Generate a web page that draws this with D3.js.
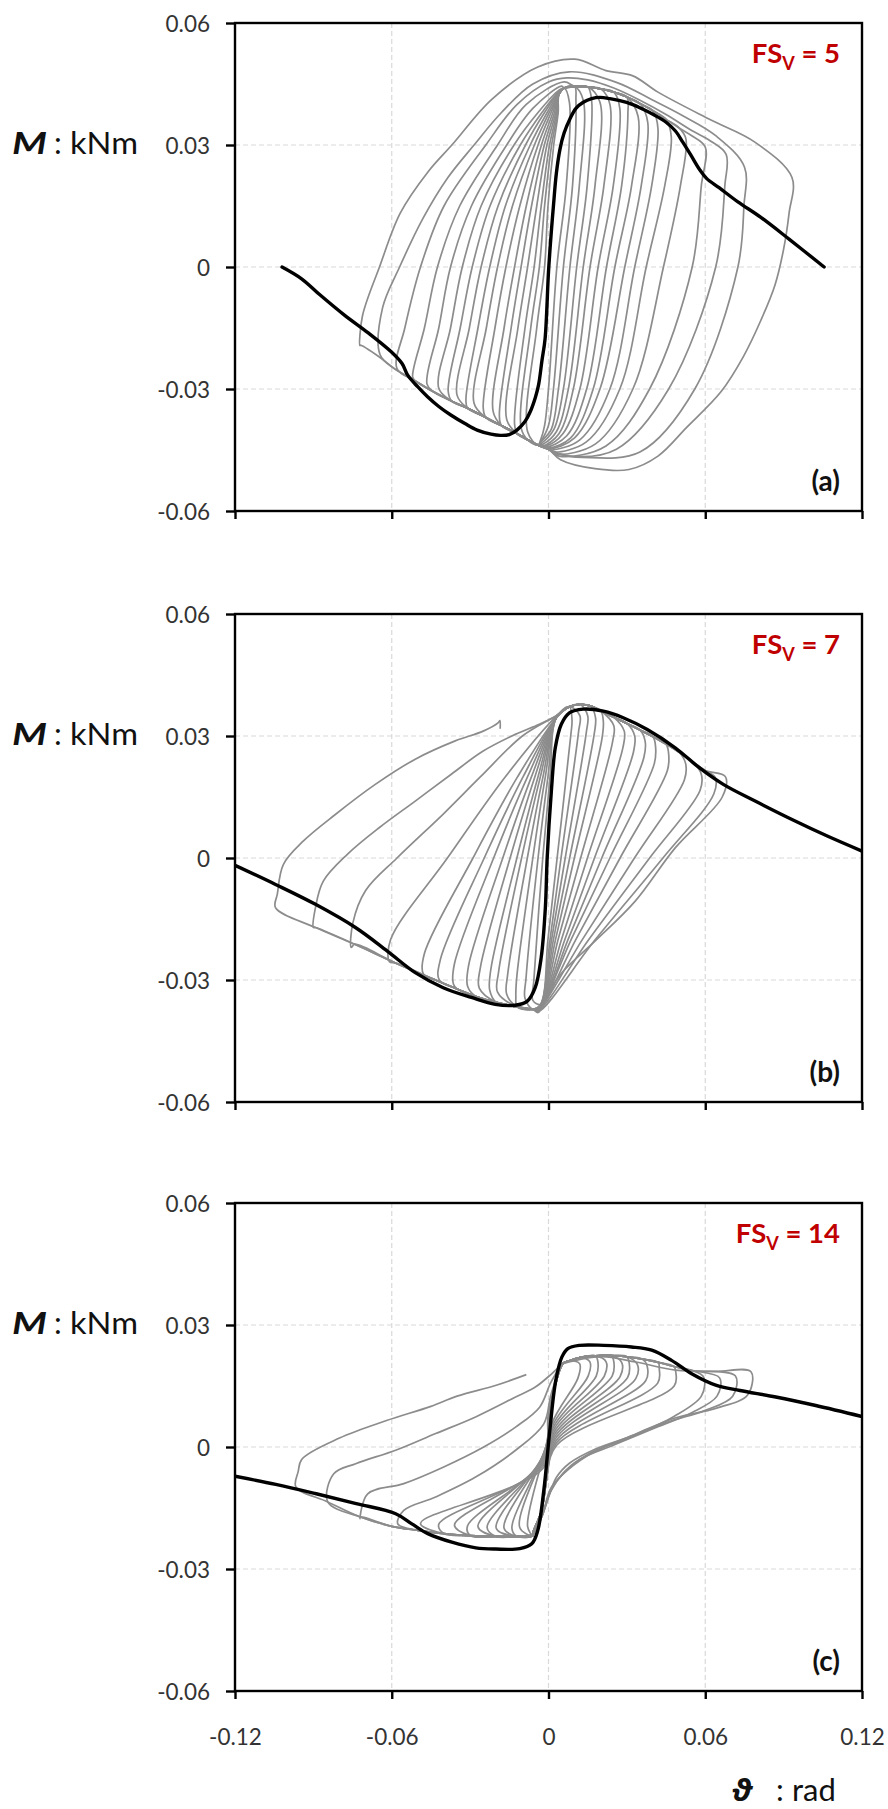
<!DOCTYPE html>
<html><head><meta charset="utf-8">
<script src="https://cdn.jsdelivr.net/npm/d3@7"></script>
<style>
body{margin:0;background:#fff}
svg{display:block}
text{font-family:Lato,"Noto Sans",sans-serif}
</style>
</head><body>
<svg id="chart" width="888" height="1809"></svg>
<script>
// ---- axes ----
const xTicks = [-0.12, -0.06, 0, 0.06, 0.12];
const xTickLabels = ["-0.12", "-0.06", "0", "0.06", "0.12"];
const yTicks = [-0.06, -0.03, 0, 0.03, 0.06];
const yTickLabels = ["-0.06", "-0.03", "0", "0.03", "0.06"];
const panelNames = ["(a)", "(b)", "(c)"];
const fsValues = ["5", "7", "14"];

// ---- panel (a): FSv = 5 ----
const topEnvA = [[0.006,0.0440],[0.010,0.0444],[0.015,0.0443],[0.020,0.0438],[0.025,0.0430],[0.030,0.0418],[0.035,0.0402],[0.040,0.0384],[0.045,0.0363],[0.050,0.0342],[0.055,0.0322]];
const botEnvA = [[-0.072,-0.0192],[-0.065,-0.0220],[-0.059,-0.0250],[-0.051,-0.0280],[-0.044,-0.0307],[-0.037,-0.0330],[-0.031,-0.0347],[-0.024,-0.0370],[-0.018,-0.0390],[-0.012,-0.0410],[-0.008,-0.0425],[-0.004,-0.0438],[0.000,-0.0448]];
const loopsA = [
 {up:[[-0.0080,-0.0405],[-0.0045,-0.015],[-0.0015,0],[-0.0002,0.015],[0.0020,0.030],[0.0037,0.038],[0.004,0.0425]],
  down:[[0.0080,0.0405],[0.0068,0.020],[0.0032,0],[0.0000,-0.030],[-0.0015,-0.039],[-0.0030,-0.0425]]},
 {up:[[-0.0105,-0.0395],[-0.0068,-0.015],[-0.0035,0],[-0.0015,0.015],[0.0012,0.030],[0.0035,0.038],[0.004,0.0425]],
  down:[[0.0105,0.0410],[0.0092,0.020],[0.0057,0],[0.0019,-0.030],[0.0000,-0.039],[-0.0030,-0.0430]]},
 {up:[[-0.0130,-0.0385],[-0.0090,-0.015],[-0.0055,0],[-0.0028,0.015],[0.0004,0.030],[0.0032,0.038],[0.004,0.0425]],
  down:[[0.0133,0.0410],[0.0118,0.020],[0.0082,0],[0.0038,-0.030],[0.0010,-0.040],[-0.0030,-0.0430]]},
 {up:[[-0.0160,-0.0375],[-0.0117,-0.015],[-0.0080,0],[-0.0045,0.015],[-0.0006,0.030],[0.0028,0.038],[0.004,0.0425]],
  down:[[0.0165,0.0410],[0.0148,0.020],[0.0108,0],[0.0057,-0.030],[0.0020,-0.040],[-0.0030,-0.0435]]},
 {up:[[-0.0188,-0.0365],[-0.0143,-0.015],[-0.0105,0],[-0.0065,0.015],[-0.0016,0.030],[0.0023,0.038],[0.004,0.0425]],
  down:[[0.0197,0.0405],[0.0178,0.020],[0.0133,0],[0.0076,-0.030],[0.0030,-0.0405],[-0.0020,-0.0435]]},
 {up:[[-0.0212,-0.0355],[-0.0170,-0.015],[-0.0130,0],[-0.0085,0.015],[-0.0027,0.030],[0.0017,0.038],[0.004,0.0425]],
  down:[[0.0235,0.0400],[0.0212,0.020],[0.0159,0],[0.0095,-0.030],[0.0040,-0.041],[-0.0020,-0.0440]]},
 {up:[[-0.0250,-0.0345],[-0.0205,-0.015],[-0.0163,0],[-0.0110,0.015],[-0.0040,0.030],[0.0010,0.038],[0.004,0.0425]],
  down:[[0.0273,0.0390],[0.0248,0.020],[0.0190,0],[0.0120,-0.030],[0.0055,-0.041],[-0.0010,-0.0440]]},
 {up:[[-0.0285,-0.0335],[-0.0238,-0.015],[-0.0195,0],[-0.0138,0.015],[-0.0054,0.030],[0.0003,0.038],[0.004,0.0425]],
  down:[[0.0304,0.0380],[0.0280,0.020],[0.0222,0],[0.0146,-0.030],[0.0070,-0.0415],[-0.0010,-0.0443]]},
 {up:[[-0.0316,-0.0325],[-0.0270,-0.015],[-0.0225,0],[-0.0165,0.015],[-0.0070,0.030],[-0.0005,0.038],[0.004,0.0428]],
  down:[[0.0343,0.0370],[0.0318,0.020],[0.0254,0],[0.0171,-0.030],[0.0085,-0.042],[0.0000,-0.0445]]},
 {up:[[-0.0350,-0.0315],[-0.0303,-0.015],[-0.0258,0],[-0.0193,0.015],[-0.0088,0.030],[-0.0015,0.038],[0.004,0.0430]],
  down:[[0.0380,0.0355],[0.0355,0.020],[0.0292,0],[0.0197,-0.030],[0.0100,-0.042],[0.0000,-0.0447]]},
 {up:[[-0.0384,-0.0305],[-0.0338,-0.015],[-0.0292,0],[-0.0224,0.015],[-0.0108,0.030],[-0.0025,0.038],[0.004,0.0432]],
  down:[[0.0419,0.0340],[0.0395,0.020],[0.0330,0],[0.0235,-0.030],[0.0120,-0.0425],[0.0010,-0.0450]]},
 {up:[[-0.0420,-0.0298],[-0.0375,-0.015],[-0.0330,0],[-0.0258,0.015],[-0.0132,0.030],[-0.0040,0.038],[0.004,0.0435]],
  down:[[0.0470,0.0320],[0.0445,0.020],[0.0374,0],[0.0273,-0.030],[0.0145,-0.043],[0.0020,-0.0455]]},
 {up:[[-0.0465,-0.0288],[-0.0420,-0.015],[-0.0375,0],[-0.0295,0.015],[-0.0160,0.030],[-0.0060,0.039],[0.005,0.0445]],
  down:[[0.0526,0.0315],[0.0505,0.020],[0.0440,0],[0.0323,-0.030],[0.0180,-0.0435],[0.0030,-0.0460]]},
 {up:[[-0.0520,-0.0270],[-0.0475,-0.015],[-0.0425,0],[-0.0340,0.015],[-0.0195,0.030],[-0.0085,0.040],[0.006,0.0455]],
  down:[[0.0600,0.0295],[0.0585,0.020],[0.0550,0],[0.0387,-0.030],[0.0220,-0.0440],[0.0040,-0.0465]]},
 {up:[[-0.0580,-0.0250],[-0.0550,-0.015],[-0.0490,0],[-0.0400,0.015],[-0.0240,0.030],[-0.0120,0.040],[0.000,0.0455],[0.007,0.0465],[0.015,0.0460],[0.025,0.0440],[0.035,0.0410],[0.045,0.0375],[0.055,0.0335],[0.062,0.0310]],
  down:[[0.0680,0.0277],[0.0675,0.020],[0.0640,0],[0.0460,-0.030],[0.0260,-0.0448],[0.0080,-0.0465]]},
 {up:[[-0.0645,-0.0215],[-0.0635,-0.010],[-0.0570,0],[-0.0480,0.012],[-0.0385,0.022],[-0.0285,0.030],[-0.0180,0.038],[-0.0060,0.0450],[0.0080,0.0480],[0.0260,0.0454],[0.0400,0.0410],[0.0514,0.0372],[0.0640,0.0323]],
  down:[[0.0750,0.0246],[0.0748,0.015],[0.0725,0],[0.0560,-0.030],[0.0350,-0.0455],[0.0130,-0.0468],[0.0040,-0.0460]]},
 {up:[[-0.0722,-0.0193],[-0.0712,-0.012],[-0.0647,0],[-0.0567,0.0133],[-0.0460,0.0235],[-0.0370,0.0300],[-0.0216,0.0413],[-0.0041,0.0492],[0.0101,0.0511],[0.0220,0.0483],[0.0323,0.0470],[0.0419,0.0430],[0.0620,0.0362],[0.0790,0.0307]],
  down:[[0.0932,0.0220],[0.0921,0.0133],[0.0900,0.0044],[0.0867,-0.0044],[0.0813,-0.0131],[0.0747,-0.0219],[0.0660,-0.0307],[0.0528,-0.0395],[0.0419,-0.0465],[0.0308,-0.0498],[0.0178,-0.0496],[0.0046,-0.0474]]}
];
const backboneA = [[-0.102,0.0],[-0.0945,-0.0029],[-0.0874,-0.0069],[-0.078,-0.0119],[-0.069,-0.0162],[-0.0603,-0.0208],[-0.056,-0.0238],[-0.0539,-0.0266],[-0.050,-0.0295],[-0.0463,-0.0319],[-0.042,-0.0343],[-0.0374,-0.0364],[-0.032,-0.0385],[-0.0273,-0.0401],[-0.022,-0.0411],[-0.0184,-0.0414],[-0.015,-0.0412],[-0.0121,-0.0401],[-0.009,-0.038],[-0.007,-0.0356],[-0.005,-0.032],[-0.0038,-0.029],[-0.0025,-0.023],[-0.0013,-0.0176],[0.0,-0.0012],[0.001,0.008],[0.0019,0.0151],[0.003,0.023],[0.0044,0.029],[0.006,0.033],[0.0082,0.0364],[0.0105,0.039],[0.0133,0.0405],[0.0165,0.0414],[0.0197,0.0417],[0.0235,0.0414],[0.0273,0.0409],[0.032,0.040],[0.0362,0.0388],[0.041,0.0372],[0.045,0.0356],[0.0485,0.0335],[0.0514,0.0307],[0.0545,0.0275],[0.0577,0.0241],[0.0605,0.0218],[0.0653,0.0195],[0.0725,0.016],[0.0813,0.0122],[0.0922,0.0068],[0.1055,0.0]];

// ---- panel (b): FSv = 7 ----
const topEnvB = [[0.008,0.0372],[0.012,0.0378],[0.016,0.0374],[0.020,0.0362],[0.025,0.0346],[0.030,0.0331],[0.035,0.0315],[0.040,0.0298],[0.045,0.0280],[0.050,0.0260],[0.055,0.0238],[0.060,0.0215]];
const botEnvB = [[-0.1045,-0.0126],[-0.0892,-0.0171],[-0.0742,-0.0212],[-0.0586,-0.0258],[-0.0433,-0.0300],[-0.0350,-0.0322],[-0.0280,-0.0340],[-0.0200,-0.0355],[-0.0120,-0.0366],[-0.0060,-0.0372]];
const loopsB = [
 {up:[[-0.0060,-0.0350],[-0.0056,-0.0300],[-0.0022,0.0],[0.0006,0.0200],[0.0030,0.0345]],
  down:[[0.0090,0.0340],[0.0085,0.0300],[0.0033,0.0],[-0.0002,-0.0200],[-0.0030,-0.0360]]},
 {up:[[-0.0090,-0.0345],[-0.0086,-0.0295],[-0.0040,0.0],[-0.0002,0.0200],[0.0030,0.0345]],
  down:[[0.0120,0.0350],[0.0115,0.0310],[0.0048,0.0],[0.0006,-0.0200],[-0.0030,-0.0360]]},
 {up:[[-0.0125,-0.0340],[-0.0121,-0.0290],[-0.0060,0.0],[-0.0012,0.0200],[0.0030,0.0345]],
  down:[[0.0150,0.0350],[0.0145,0.0310],[0.0064,0.0],[0.0012,-0.0200],[-0.0030,-0.0360]]},
 {up:[[-0.0160,-0.0335],[-0.0156,-0.0285],[-0.0081,0.0],[-0.0021,0.0200],[0.0030,0.0345]],
  down:[[0.0180,0.0345],[0.0175,0.0305],[0.0081,0.0],[0.0019,-0.0200],[-0.0030,-0.0362]]},
 {up:[[-0.0195,-0.0330],[-0.0191,-0.0280],[-0.0103,0.0],[-0.0031,0.0200],[0.0030,0.0345]],
  down:[[0.0210,0.0335],[0.0205,0.0295],[0.0099,0.0],[0.0027,-0.0200],[-0.0030,-0.0362]]},
 {up:[[-0.0225,-0.0325],[-0.0221,-0.0275],[-0.0121,0.0],[-0.0040,0.0200],[0.0030,0.0345]],
  down:[[0.0250,0.0325],[0.0245,0.0285],[0.0123,0.0],[0.0037,-0.0200],[-0.0030,-0.0364]]},
 {up:[[-0.0265,-0.0320],[-0.0261,-0.0270],[-0.0147,0.0],[-0.0052,0.0200],[0.0030,0.0345]],
  down:[[0.0290,0.0312],[0.0285,0.0272],[0.0149,0.0],[0.0050,-0.0200],[-0.0030,-0.0365]]},
 {up:[[-0.0310,-0.0315],[-0.0306,-0.0265],[-0.0175,0.0],[-0.0065,0.0200],[0.0030,0.0345]],
  down:[[0.0330,0.0300],[0.0325,0.0260],[0.0176,0.0],[0.0063,-0.0200],[-0.0030,-0.0366]]},
 {up:[[-0.0364,-0.0310],[-0.0360,-0.0260],[-0.0210,0.0],[-0.0080,0.0200],[0.0030,0.0345]],
  down:[[0.0370,0.0287],[0.0365,0.0247],[0.0204,0.0],[0.0075,-0.0200],[-0.0030,-0.0367]]},
 {up:[[-0.0418,-0.0300],[-0.0414,-0.0250],[-0.0246,0.0],[-0.0097,0.0200],[0.0030,0.0345]],
  down:[[0.0410,0.0272],[0.0405,0.0232],[0.0235,0.0],[0.0087,-0.0200],[-0.0035,-0.0368]]},
 {up:[[-0.0479,-0.0285],[-0.0475,-0.0235],[-0.0289,0.0],[-0.0118,0.0200],[0.0030,0.0345]],
  down:[[0.0460,0.0255],[0.0455,0.0215],[0.0274,0.0],[0.0105,-0.0200],[-0.0035,-0.0370]]},
 {up:[[-0.0609,-0.0255],[-0.0604,-0.0200],[-0.0387,0.0],[-0.0165,0.0200],[0.0030,0.0348]],
  down:[[0.0525,0.0232],[0.0520,0.0192],[0.0329,0.0],[0.0130,-0.0200],[-0.0040,-0.0372]]},
 {up:[[-0.0755,-0.0220],[-0.0749,-0.0160],[-0.0700,-0.0080],[-0.0580,0.0],[-0.0400,0.0110],[-0.0260,0.0200],[-0.0100,0.0300],[0.0030,0.0350]],
  down:[[0.0585,0.0206],[0.0580,0.0166],[0.0387,0.0],[0.0155,-0.0200],[-0.0040,-0.0375]]},
 {up:[[-0.0900,-0.0171],[-0.0892,-0.0122],[-0.0862,-0.0057],[-0.0770,0.0009],[-0.0647,0.0075],[-0.0510,0.0140],[-0.0372,0.0206],[-0.0250,0.0263],[-0.0127,0.0304],[-0.0035,0.0329],[0.0030,0.0350]],
  down:[[0.0638,0.0198],[0.0633,0.0158],[0.0438,0.0],[0.0180,-0.0200],[-0.0040,-0.0378]]}
];
const lastCycleB = {
  head:[[0.0030,0.0350]],
  down:[[0.0677,0.0200],[0.0665,0.0150],[0.0485,0.0025],[0.0332,-0.0106],[0.0179,-0.0204],[0.0057,-0.0278],[0.0000,-0.0330],[-0.0040,-0.0380]],
  up:[[-0.1045,-0.0122],[-0.1038,-0.0089],[-0.1015,-0.0016],[-0.0938,0.0042],[-0.0816,0.0107],[-0.0663,0.0181],[-0.0510,0.0243],[-0.0357,0.0288],[-0.0250,0.0312],[-0.0192,0.0333],[-0.0186,0.0338],[-0.0185,0.0318]]
};
const backboneB = [[-0.12,-0.0018],[-0.1045,-0.0065],[-0.0892,-0.0114],[-0.0739,-0.0171],[-0.0617,-0.0229],[-0.051,-0.0282],[-0.0403,-0.0319],[-0.0295,-0.0343],[-0.0204,-0.036],[-0.0127,-0.0362],[-0.0081,-0.0352],[-0.0051,-0.0319],[-0.0028,-0.0245],[-0.0012,-0.0122],[-0.0005,0.0001],[0.0011,0.0165],[0.0026,0.0271],[0.0049,0.0329],[0.008,0.0357],[0.0133,0.0366],[0.021,0.0361],[0.0286,0.0345],[0.0378,0.0316],[0.0485,0.0271],[0.0577,0.0222],[0.0669,0.0181],[0.0791,0.014],[0.0944,0.0091],[0.1067,0.0054],[0.12,0.0017]];

// ---- panel (c): FSv = 14 ----
const topEnvC = [[0.008,0.0212],[0.012,0.0220],[0.018,0.0224],[0.024,0.0225],[0.030,0.0222],[0.036,0.0216],[0.042,0.0208],[0.048,0.0198],[0.055,0.0188]];
const botEnvC = [[-0.0966,-0.0098],[-0.0845,-0.0135],[-0.072,-0.0172],[-0.060,-0.0195],[-0.050,-0.0205],[-0.040,-0.0213],[-0.030,-0.0218],[-0.020,-0.0220],[-0.012,-0.0220],[-0.006,-0.0218]];
const loopsC = [
 {up:[[-0.0080,-0.0195],[-0.0004,0.0020],[0.0008,0.0090],[0.0025,0.0150],[0.0055,0.0205]],
  down:[[0.0119,0.0205],[0.0113,0.0170],[0.0012,0.0055],[-0.0008,-0.0080],[-0.0028,-0.0160],[-0.0058,-0.0208]]},
 {up:[[-0.0110,-0.0198],[-0.0005,0.0013],[0.0007,0.0088],[0.0025,0.0150],[0.0055,0.0205]],
  down:[[0.0158,0.0210],[0.0152,0.0175],[0.0014,0.0050],[-0.0008,-0.0080],[-0.0028,-0.0160],[-0.0058,-0.0208]]},
 {up:[[-0.0140,-0.0200],[-0.0007,0.0006],[0.0006,0.0086],[0.0025,0.0150],[0.0055,0.0205]],
  down:[[0.0189,0.0210],[0.0183,0.0175],[0.0016,0.0045],[-0.0008,-0.0080],[-0.0028,-0.0160],[-0.0058,-0.0208]]},
 {up:[[-0.0170,-0.0200],[-0.0008,-0.0001],[0.0005,0.0084],[0.0025,0.0150],[0.0055,0.0205]],
  down:[[0.0220,0.0210],[0.0214,0.0175],[0.0018,0.0040],[-0.0008,-0.0080],[-0.0028,-0.0160],[-0.0058,-0.0208]]},
 {up:[[-0.0200,-0.0200],[-0.0010,-0.0008],[0.0004,0.0082],[0.0025,0.0150],[0.0055,0.0205]],
  down:[[0.0250,0.0210],[0.0244,0.0175],[0.0020,0.0035],[-0.0008,-0.0080],[-0.0028,-0.0160],[-0.0058,-0.0208]]},
 {up:[[-0.0235,-0.0198],[-0.0011,-0.0015],[0.0003,0.0080],[0.0025,0.0150],[0.0055,0.0205]],
  down:[[0.0280,0.0208],[0.0274,0.0173],[0.0022,0.0030],[-0.0008,-0.0080],[-0.0028,-0.0160],[-0.0058,-0.0208]]},
 {up:[[-0.0270,-0.0196],[-0.0013,-0.0022],[0.0002,0.0078],[0.0025,0.0150],[0.0055,0.0205]],
  down:[[0.0309,0.0206],[0.0303,0.0171],[0.0024,0.0025],[-0.0008,-0.0080],[-0.0028,-0.0160],[-0.0058,-0.0208]]},
 {up:[[-0.0310,-0.0194],[-0.0014,-0.0029],[0.0001,0.0076],[0.0025,0.0150],[0.0055,0.0205]],
  down:[[0.0340,0.0203],[0.0334,0.0168],[0.0026,0.0020],[-0.0008,-0.0080],[-0.0028,-0.0160],[-0.0058,-0.0208]]},
 {up:[[-0.0360,-0.0192],[-0.0015,-0.0036],[0.0000,0.0074],[0.0025,0.0150],[0.0055,0.0205]],
  down:[[0.0378,0.0198],[0.0372,0.0163],[0.0028,0.0015],[-0.0008,-0.0080],[-0.0028,-0.0160],[-0.0058,-0.0208]]},
 {up:[[-0.0420,-0.0190],[-0.0017,-0.0043],[-0.0001,0.0072],[0.0025,0.0150],[0.0055,0.0205]],
  down:[[0.0424,0.0192],[0.0418,0.0157],[0.0030,0.0010],[-0.0008,-0.0080],[-0.0028,-0.0160],[-0.0058,-0.0208]]},
 {up:[[-0.0490,-0.0188],[-0.0018,-0.0050],[-0.0002,0.0070],[0.0025,0.0150],[0.0055,0.0205]],
  down:[[0.0487,0.0185],[0.0481,0.0150],[0.0032,0.0005],[-0.0008,-0.0080],[-0.0028,-0.0160],[-0.0058,-0.0208]]},
 {up:[[-0.0577,-0.0189],[-0.0554,-0.0156],[-0.0432,-0.0123],[-0.0279,-0.0074],[-0.0126,-0.0008],[-0.0018,0.0057],[0.0010,0.0130],[0.0055,0.0205]],
  down:[[0.0594,0.0172],[0.0585,0.0125],[0.0480,0.0075],[0.0330,0.0030],[0.0180,-0.0005],[0.0080,-0.0040],[0.0030,-0.0075],[0.0005,-0.0115],[-0.0025,-0.0170],[-0.0058,-0.0212]]},
 {up:[[-0.0722,-0.0176],[-0.0692,-0.0115],[-0.0554,-0.0090],[-0.0401,-0.0049],[-0.0248,0.0],[-0.0126,0.0049],[-0.0034,0.0098],[0.0010,0.0160],[0.0055,0.0205]],
  down:[[0.0655,0.0170],[0.0645,0.0125],[0.0550,0.0085],[0.0400,0.0045],[0.0250,0.0005],[0.0120,-0.0030],[0.0055,-0.0065],[0.0008,-0.0110],[-0.0025,-0.0170],[-0.0058,-0.0212]]},
 {up:[[-0.0845,-0.0135],[-0.0822,-0.0066],[-0.0738,-0.0041],[-0.0585,-0.0008],[-0.0432,0.0033],[-0.0279,0.0074],[-0.0126,0.0123],[-0.0049,0.0148],[0.0012,0.0180],[0.0055,0.0205]],
  down:[[0.0715,0.0175],[0.0705,0.0125],[0.0600,0.0090],[0.0450,0.0060],[0.0300,0.0020],[0.0160,-0.0015],[0.0065,-0.0060],[0.0010,-0.0105],[-0.0025,-0.0170],[-0.0060,-0.0213]]}
];
const lastCycleC = {
  head:[[0.0055,0.0205],[0.0200,0.0222],[0.0334,0.0209],[0.0487,0.0189],[0.0640,0.0186]],
  down:[[0.0775,0.0185],[0.0762,0.0128],[0.0640,0.0095],[0.0487,0.0072],[0.0334,0.0032],[0.0180,-0.0010],[0.0073,-0.0057],[0.0010,-0.0100],[-0.0025,-0.0170],[-0.0060,-0.0215]],
  up:[[-0.0967,-0.0098],[-0.0958,-0.0060],[-0.0944,-0.0030],[-0.0800,0.0022],[-0.0620,0.0065],[-0.0450,0.0100],[-0.0350,0.0125],[-0.0200,0.0152],[-0.0085,0.0178]]
};
const backboneC = [[-0.12,-0.0072],[-0.1044,-0.0092],[-0.0889,-0.0115],[-0.0736,-0.0139],[-0.0585,-0.0164],[-0.0523,-0.0189],[-0.0462,-0.0213],[-0.037,-0.0234],[-0.0278,-0.0248],[-0.0202,-0.0251],[-0.011,-0.025],[-0.0064,-0.0238],[-0.0041,-0.0205],[-0.0018,-0.0107],[0.0005,0.0041],[0.0028,0.0164],[0.0051,0.0221],[0.0074,0.0242],[0.0119,0.025],[0.0211,0.025],[0.0318,0.0246],[0.0395,0.0238],[0.0471,0.0213],[0.0548,0.018],[0.064,0.0152],[0.0733,0.0139],[0.087,0.0123],[0.1023,0.0102],[0.12,0.0075]];

// ---- layout ----
const LEFT = 235, W = 627, H = 488;
const panelTops = [23, 614, 1203];
const GRAY = "#8c8c8c";

const svg = d3.select("#chart");

// joins one cycle: rising branch, shared upper path, falling branch, shared lower path
function cyclePoints(c, topEnv, botEnv) {
  const up = c.up, down = c.down;
  const a = up[up.length - 1][0], b = down[0][0];
  const top = topEnv.filter(p => p[0] > a + 1e-4 && p[0] < b - 1e-4);
  const bA = down[down.length - 1][0], bB = up[0][0];
  const bot = botEnv.filter(p => p[0] < bA - 1e-4 && p[0] > bB + 1e-4).reverse();
  return up.concat(top, down, bot);
}
function lastCyclePoints(c, topEnv, botEnv) {
  const a = c.head[c.head.length - 1][0], b = c.down[0][0];
  const top = topEnv.filter(p => p[0] > a + 1e-4 && p[0] < b - 1e-4);
  const bA = c.down[c.down.length - 1][0], bB = c.up[0][0];
  const bot = botEnv.filter(p => p[0] < bA - 1e-4 && p[0] > bB + 1e-4).reverse();
  return c.head.concat(top, c.down, bot, c.up);
}

const panels = [
  {loops: loopsA, last: null, topEnv: topEnvA, botEnv: botEnvA, backbone: backboneA},
  {loops: loopsB, last: lastCycleB, topEnv: topEnvB, botEnv: botEnvB, backbone: backboneB},
  {loops: loopsC, last: lastCycleC, topEnv: topEnvC, botEnv: botEnvC, backbone: backboneC}
];

const x = d3.scaleLinear().domain([-0.12, 0.12]).range([0, W]);
const y = d3.scaleLinear().domain([-0.06, 0.06]).range([H, 0]);

const defs = svg.append("defs");
defs.append("clipPath").attr("id", "plotClip")
  .append("rect").attr("x", 0).attr("y", 0).attr("width", W).attr("height", H);

panels.forEach((p, i) => {
  const g = svg.append("g").attr("transform", `translate(${LEFT},${panelTops[i]})`);

  // dashed grid
  const grid = g.append("g");
  grid.selectAll("line.v").data(xTicks.slice(1, -1)).join("line")
    .attr("x1", d => x(d)).attr("x2", d => x(d)).attr("y1", 0).attr("y2", H)
    .attr("stroke", "#d9d9d9").attr("stroke-width", 1.2).attr("stroke-dasharray", "5,3");
  grid.selectAll("line.h").data(yTicks.slice(1, -1)).join("line")
    .attr("y1", d => y(d)).attr("y2", d => y(d)).attr("x1", 0).attr("x2", W)
    .attr("stroke", "#d9d9d9").attr("stroke-width", 1.2).attr("stroke-dasharray", "5,3");

  const plot = g.append("g").attr("clip-path", "url(#plotClip)");
  const closed = d3.line().x(d => x(d[0])).y(d => y(d[1])).curve(d3.curveCatmullRomClosed.alpha(0.5));
  const open = d3.line().x(d => x(d[0])).y(d => y(d[1])).curve(d3.curveCatmullRom.alpha(0.5));

  plot.selectAll("path.cycle").data(p.loops).join("path")
    .attr("class", "cycle")
    .attr("d", c => closed(cyclePoints(c, p.topEnv, p.botEnv)))
    .attr("fill", "none").attr("stroke", GRAY).attr("stroke-width", 1.7)
    .attr("stroke-linejoin", "round");
  if (p.last) {
    plot.append("path")
      .attr("d", open(lastCyclePoints(p.last, p.topEnv, p.botEnv)))
      .attr("fill", "none").attr("stroke", GRAY).attr("stroke-width", 1.7)
      .attr("stroke-linejoin", "round");
  }
  plot.append("path")
    .attr("d", open(p.backbone))
    .attr("fill", "none").attr("stroke", "#000").attr("stroke-width", 3.4)
    .attr("stroke-linejoin", "round").attr("stroke-linecap", "round");

  // frame
  g.append("rect").attr("x", 0).attr("y", 0).attr("width", W).attr("height", H)
    .attr("fill", "none").attr("stroke", "#000").attr("stroke-width", 2.4);

  // axes
  const yAxis = d3.axisLeft(y).tickValues(yTicks).tickSize(9).tickPadding(16)
    .tickFormat((d, k) => yTickLabels[k]);
  const ya = g.append("g").call(yAxis);
  ya.select(".domain").remove();
  ya.selectAll("line").attr("stroke", "#000").attr("stroke-width", 2.4);
  ya.selectAll("text").attr("font-size", 22.5).attr("fill", "#333")
    .style("font-family", "Lato, sans-serif").attr("dy", "0.36em");

  const xAxis = d3.axisBottom(x).tickValues(xTicks).tickSize(8).tickPadding(30)
    .tickFormat((d, k) => i === 2 ? xTickLabels[k] : "");
  const xa = g.append("g").attr("transform", `translate(0,${H})`).call(xAxis);
  xa.select(".domain").remove();
  xa.selectAll("line").attr("stroke", "#000").attr("stroke-width", 2.4);
  xa.selectAll("text").attr("font-size", 22.5).attr("fill", "#333")
    .style("font-family", "Lato, sans-serif");

  // factor of safety tag
  const fs = g.append("text").attr("x", 605).attr("y", 40)
    .attr("text-anchor", "end").attr("fill", "#C00000")
    .attr("font-weight", "bold").attr("font-size", 27.5);
  fs.append("tspan").text("FS");
  fs.append("tspan").attr("dy", 7).attr("font-size", 18).text("V");
  fs.append("tspan").attr("dy", -7).text("\u00a0=\u00a0" + fsValues[i]);

  // panel letter
  g.append("text").attr("x", 605).attr("y", H - 20)
    .attr("text-anchor", "end").attr("font-weight", "bold").attr("font-size", 28)
    .attr("fill", "#111").text(panelNames[i]);

  // y-axis title
  const ty = panelTops[i] + y(0.03) + 9;
  svg.append("text").attr("x", 12).attr("y", ty).attr("font-size", 31).attr("fill", "#111")
    .attr("font-weight", "bold").attr("font-style", "italic")
    .attr("textLength", 35).attr("lengthAdjust", "spacingAndGlyphs").text("M");
  svg.append("text").attr("x", 54).attr("y", ty).attr("font-size", 31).attr("fill", "#111").text(":");
  svg.append("text").attr("x", 70).attr("y", ty).attr("font-size", 31).attr("fill", "#111")
    .attr("textLength", 68).attr("lengthAdjust", "spacingAndGlyphs").text("kNm");
});

// x-axis title
svg.append("text").attr("x", 731).attr("y", 1801).attr("font-size", 31).attr("fill", "#111")
  .attr("font-weight", "bold").attr("font-style", "italic")
  .style("font-family", "'Noto Sans', 'DejaVu Sans', sans-serif").text("\u03d1");
svg.append("text").attr("x", 776).attr("y", 1801).attr("font-size", 31).attr("fill", "#111").text(":");
svg.append("text").attr("x", 792).attr("y", 1801).attr("font-size", 31).attr("fill", "#111").text("rad");
</script>
</body></html>
